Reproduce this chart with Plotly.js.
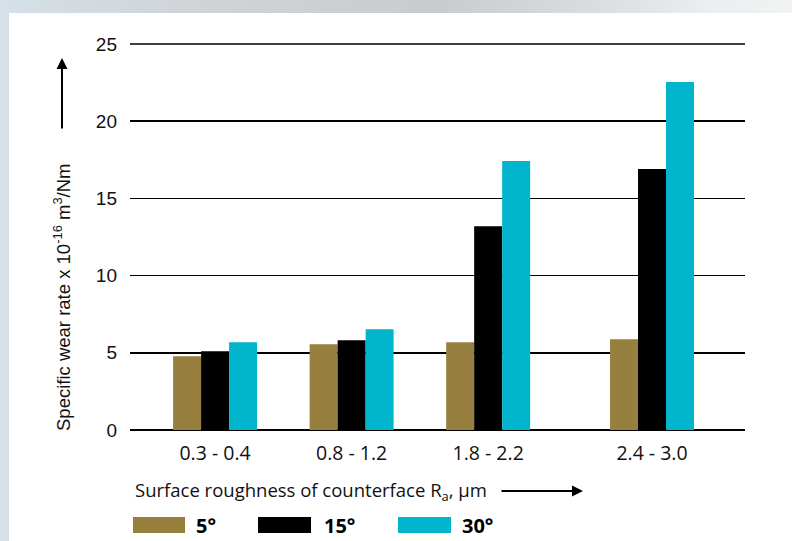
<!DOCTYPE html>
<html><head><meta charset="utf-8">
<script src="https://cdn.plot.ly/plotly-3.0.1.min.js"></script>
<style>
html,body{margin:0;padding:0;width:792px;height:541px;overflow:hidden;}
body{background:linear-gradient(90deg,#d5e0e8 0%,#cfd4d8 25%,#c8ccd0 55%,#d9dde0 75%,#eceff1 90%,#f0f2f3 100%);position:relative;}
#panel{position:absolute;left:9px;top:13px;right:0;bottom:0;background:#fff;}
#chart{position:absolute;left:0;top:0;width:792px;height:541px;}
</style></head><body><div id="panel"></div><div id="chart"></div>
<script>
const categories = ['0.3 - 0.4', '0.8 - 1.2', '1.8 - 2.2', '2.4 - 3.0'];
const categoryPos = [0, 1, 2, 3.2];
const seriesNames = ['5°', '15°', '30°'];
const values5 = [4.77, 5.55, 5.68, 5.87];
const values15 = [5.10, 5.81, 13.2, 16.9];
const values30 = [5.68, 6.52, 17.42, 22.54];
const seriesColors = ['#977f40', '#000000', '#00b5cc'];
const yTicks = [0, 5, 10, 15, 20, 25];

const seriesValues = [values5, values15, values30];

// plot area in window pixels
const L = 130, R = 745, T = 44, B = 430;
const px = v => (v - L) / (R - L);
const py = v => (B - v) / (B - T);

const traces = seriesValues.map((vals, i) => ({
  type: 'bar', x: categoryPos, y: vals, name: seriesNames[i],
  marker: {color: seriesColors[i], line: {width: 0}},
  hoverinfo: 'skip', showlegend: false
}));

const shapes = [];
const annotations = [];
// top gridline at the range edge (top of plot area = max y tick)
shapes.push({type: 'line', xref: 'paper', yref: 'paper', x0: 0, x1: 1, y0: 1, y1: 1,
  line: {color: '#000', width: 1.5}, layer: 'below'});
const legendBoxes = [[133, 185, 194], [258, 311, 322], [398, 451, 460]];
seriesNames.forEach((n, i) => {
  const b = legendBoxes[i];
  shapes.push({type: 'rect', xref: 'paper', yref: 'paper', x0: px(b[0]), x1: px(b[1]), y0: py(533), y1: py(517),
    fillcolor: seriesColors[i], line: {width: 0}, layer: 'above'});
  annotations.push({xref: 'paper', yref: 'paper', x: px(b[2]), y: py(525), xanchor: 'left', yanchor: 'middle',
    text: '<b>' + n + '</b>', showarrow: false, font: {family: 'Open Sans', size: 20, color: '#000'}});
});

annotations.push({xref: 'paper', yref: 'paper', x: px(62), y: py(297), textangle: -90, xanchor: 'center', yanchor: 'middle',
  text: 'Specific wear rate x 10<sup>-16</sup> m<sup>3</sup>/Nm', showarrow: false,
  font: {family: 'Liberation Sans', size: 18.5, color: '#111'}});
annotations.push({xref: 'paper', yref: 'paper', x: px(62), y: py(58), text: '', showarrow: true,
  ax: 0, ay: 72, arrowhead: 2, arrowsize: 1.1, arrowwidth: 2, arrowcolor: '#000'});
annotations.push({xref: 'paper', yref: 'paper', x: px(133), y: py(491), xanchor: 'left', yanchor: 'middle',
  text: 'Surface roughness of counterface R<sub>a</sub>, µm', showarrow: false,
  font: {family: 'Open Sans', size: 18.5, color: '#111'}});
annotations.push({xref: 'paper', yref: 'paper', x: px(583), y: py(491), text: '', showarrow: true,
  ax: -83, ay: 0, arrowhead: 2, arrowsize: 1.1, arrowwidth: 2, arrowcolor: '#000'});

const layout = {
  width: 792, height: 541,
  margin: {l: L, r: 792 - R, t: T, b: 541 - B, pad: 0},
  paper_bgcolor: 'rgba(0,0,0,0)', plot_bgcolor: 'rgba(0,0,0,0)',
  barmode: 'group', bargap: 0.385, bargroupgap: 0,
  xaxis: {range: [-0.623, 3.881], tickvals: categoryPos, ticktext: categories, showgrid: false, zeroline: false,
    showline: false, ticks: '', ticklabelstandoff: 9, tickfont: {family: 'Open Sans', size: 19.5, color: '#111'}, fixedrange: true},
  yaxis: {range: [0, 25], tickvals: yTicks, showgrid: true, gridcolor: '#000', gridwidth: 1.5,
    zeroline: true, zerolinecolor: '#000', zerolinewidth: 1.5, showline: false, ticks: '',
    ticklabelstandoff: 12, tickfont: {family: 'Liberation Sans', size: 19, color: '#111'}, fixedrange: true},
  shapes: shapes, annotations: annotations,
  font: {family: 'Liberation Sans'}
};
Plotly.newPlot('chart', traces, layout, {displayModeBar: false, staticPlot: true});
</script></body></html>
